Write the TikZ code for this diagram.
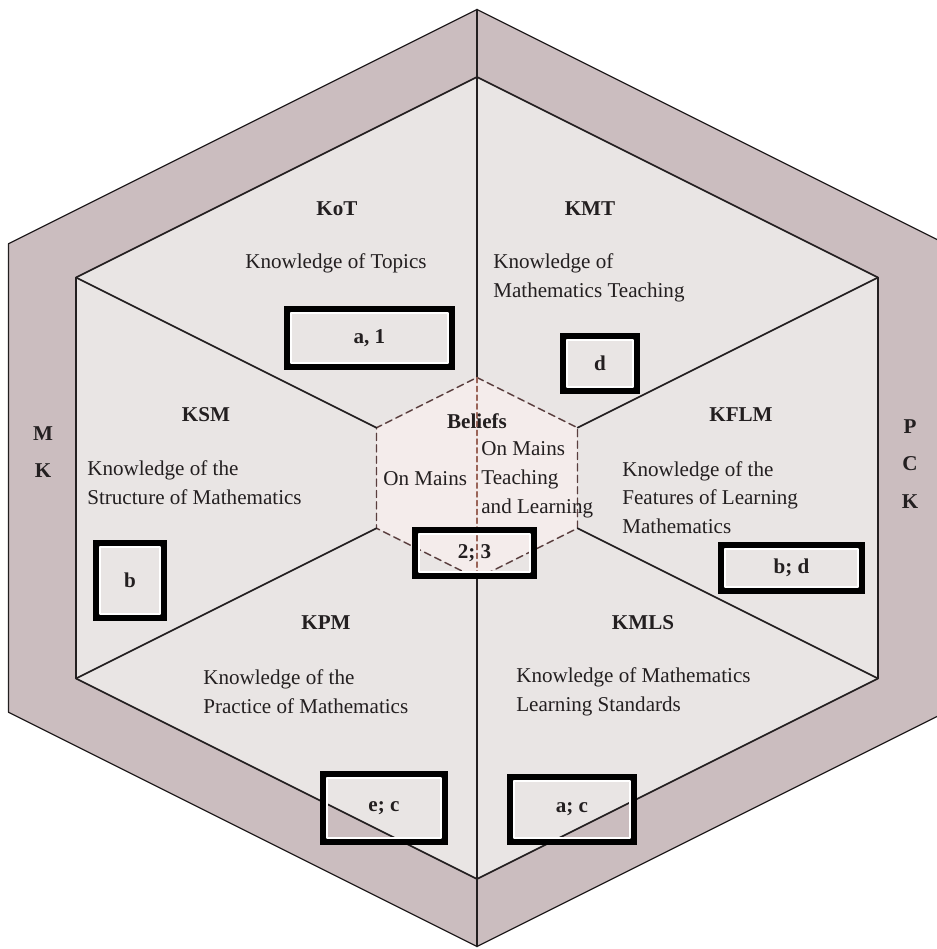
\documentclass[tikz,border=0pt]{standalone}
\usepackage{fontspec}
\setmainfont{Liberation Serif}
\usetikzlibrary{calc}

\definecolor{band}{HTML}{CBBDBF}
\definecolor{facefill}{HTML}{E9E5E4}
\definecolor{corefill}{HTML}{F4ECEB}
\definecolor{ink}{HTML}{231F20}
\definecolor{rim}{HTML}{5A3E3E}
\definecolor{axis}{HTML}{9A6458}

\begin{document}
\begin{tikzpicture}[line join=round, line cap=round,
    font=\fontsize{12}{16.4}\selectfont,
    tag/.style={draw=black, line width=3.6pt, line join=miter, inner sep=0pt, outer sep=0pt,
        font=\fontsize{12}{14}\selectfont\bfseries, text=ink},
    title/.style={font=\fontsize{12}{14}\selectfont\bfseries, text=ink},
    desc/.style={anchor=west, align=left, inner sep=0pt, text=ink},
    side/.style={font=\fontsize{12}{21.5}\selectfont\bfseries, align=center, text=ink}]
    \useasboundingbox (-9.54,-9.42) rectangle (9.2,9.56);
    \clip (-9.54,-9.42) rectangle (9.2,9.56);

    % 三个六边形的顶点
    \foreach \n/\h in {o/9.37, i/8.02, s/2.01}
        \foreach \k/\dx/\dy in {1/0/1, 2/1/0.5, 3/1/-0.5, 4/0/-1, 5/-1/-0.5, 6/-1/0.5}
            \coordinate (\n\k) at (\dx*\h, \dy*\h);

    % 外圈 MK / PCK
    \filldraw[fill=band, draw=ink, line width=0.7pt] (o1) -- (o2) -- (o3) -- (o4) -- (o5) -- (o6) -- cycle;
    % 内六边形
    \filldraw[fill=facefill, draw=ink, line width=0.9pt] (i1) -- (i2) -- (i3) -- (i4) -- (i5) -- (i6) -- cycle;
    % 中心 Beliefs
    \filldraw[fill=corefill, draw=rim, line width=0.8pt, dash pattern=on 4pt off 2.5pt] (s1) -- (s2) -- (s3) -- (s4) -- (s5) -- (s6) -- cycle;

    % 分隔线
    \foreach \k in {2,3,5,6}
        \draw[ink, line width=0.9pt] (s\k) -- (i\k);
    \draw[ink, line width=0.9pt] (o1) -- (s1) (s4) -- (o4);
    \draw[axis, line width=0.8pt, dash pattern=on 3pt off 2pt] (s1) -- (s4);

    % 标题
    \node[title] (KoT) at (-2.8,5.38) {KoT};
    \node[title] (KMT) at (2.26,5.38) {KMT};
    \node[title] (KSM) at (-5.42,1.26) {KSM};
    \node[title] (KFLM) at (5.28,1.26) {KFLM};
    \node[title] (KPM) at (-3.02,-2.9) {KPM};
    \node[title] (KMLS) at (3.32,-2.9) {KMLS};
    \node[title] (Bel) at (0,1.14) {Beliefs};

    % 说明文字
    \node[desc] (dKoT) at (-4.64,4.3) {Knowledge of Topics};
    \node[desc] (dKMT) at (0.32,4.01) {Knowledge of\\Mathematics Teaching};
    \node[desc] (dKSM) at (-7.8,-0.09) {Knowledge of the\\Structure of Mathematics};
    \node[desc] (dKFLM) at (2.9,-0.39) {Knowledge of the\\Features of Learning\\Mathematics};
    \node[desc] (dKPM) at (-5.48,-4.28) {Knowledge of the\\Practice of Mathematics};
    \node[desc] (dKMLS) at (0.78,-4.28) {Knowledge of Mathematics\\Learning Standards};
    \node[desc] (dBelL) at (-1.88,-0.02) {On Mains};
    \node[desc] (dBelR) at (0.08,-0.03) {On Mains\\Teaching\\and Learning};

    % 外圈字母
    \node[side] (MK) at (-8.68,0.52) {M\\K};
    \node[side] (PCK) at (8.66,0.28) {P\\C\\K};

    % 方框
    \node[tag, minimum width=3.28cm, minimum height=1.14cm] (bKoT) at (-2.15,2.8) {a, 1};
    \node[tag, minimum width=1.46cm, minimum height=1.08cm] (bKMT) at (2.46,2.29) {d};
    \node[tag, minimum width=1.34cm, minimum height=1.48cm] (bKSM) at (-6.94,-2.05) {b};
    \node[tag, minimum width=2.8cm, minimum height=0.9cm] (bKFLM) at (6.29,-1.8) {b; d};
    \node[tag, minimum width=2.36cm, minimum height=0.9cm] (bBel) at (-0.05,-1.5) {2; 3};
    \node[tag, minimum width=2.42cm, minimum height=1.34cm] (bKPM) at (-1.86,-6.6) {e; c};
    \node[tag, minimum width=2.46cm, minimum height=1.28cm] (bKMLS) at (1.9,-6.63) {a; c};
    \foreach \b in {bKoT, bKMT, bKSM, bKFLM, bBel, bKPM, bKMLS}
        \draw[white, line width=0.9pt] ($(\b.south west)+(2pt,2pt)$) rectangle ($(\b.north east)+(-2pt,-2pt)$);
\end{tikzpicture}
\end{document}
